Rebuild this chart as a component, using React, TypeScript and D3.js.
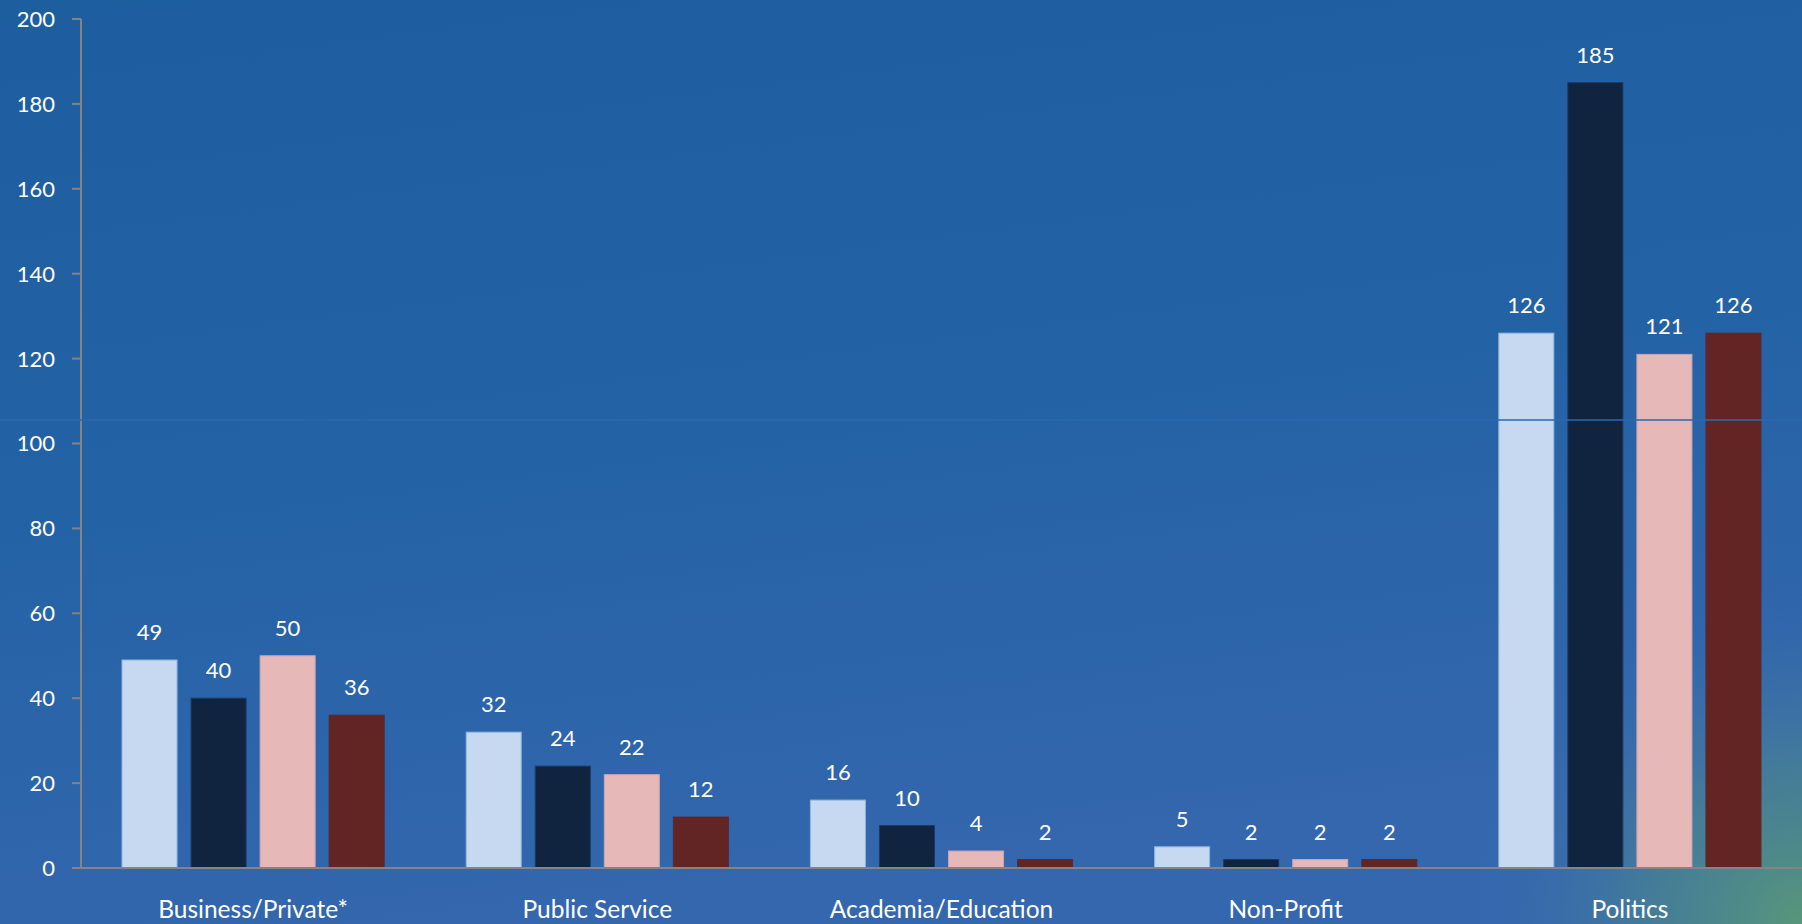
import React from "react";
import * as d3 from "d3";

const categories = ["Business/Private*", "Public Service", "Academia/Education", "Non-Profit", "Politics"];
const seriesNames = ["Series 1", "Series 2", "Series 3", "Series 4"];
const series1 = [49, 32, 16, 5, 126];
const series2 = [40, 24, 10, 2, 185];
const series3 = [50, 22, 4, 2, 121];
const series4 = [36, 12, 2, 2, 126];
const yTicks = [0, 20, 40, 60, 80, 100, 120, 140, 160, 180, 200];

const seriesValues = [series1, series2, series3, series4];
const fills = ["#c6d9f0", "#10243f", "#e6b8b7", "#632523"];
const strokes = ["#8fb3df", "#1d3a63", "#c9a3b3", "#5a2a2e"];

const W = 1802;
const H = 924;
const left = 81;
const right = 1802;
const y0 = 868;
const yTop = 19;
const FONT = "Lato, 'Open Sans', sans-serif";

export default function App() {
  const x = d3.scaleBand<string>().domain(categories).range([left, right]).paddingInner(0).paddingOuter(0);
  const y = d3.scaleLinear().domain([0, 200]).range([y0, yTop]);
  const inner = d3
    .scaleBand<string>()
    .domain(seriesNames)
    .range([41, x.bandwidth() - 41])
    .paddingInner(14 / 69)
    .paddingOuter(0);

  return (
    <svg
      width={W}
      height={H}
      style={{ position: "absolute", left: 0, top: 0, display: "block" }}
      fontFamily={FONT}
    >
      <defs>
        <linearGradient id="bg" x1="0" y1="0" x2="0.25" y2="1">
          <stop offset="0" stopColor="#1d5e9f" />
          <stop offset="0.55" stopColor="#2462a6" />
          <stop offset="1" stopColor="#3467ad" />
        </linearGradient>
        <radialGradient id="glow" cx={W} cy={H} r="330" gradientUnits="userSpaceOnUse">
          <stop offset="0" stopColor="#58977a" stopOpacity="1" />
          <stop offset="0.45" stopColor="#4a8490" stopOpacity="0.75" />
          <stop offset="1" stopColor="#3a6db2" stopOpacity="0" />
        </radialGradient>
      </defs>
      <rect x={0} y={0} width={W} height={H} fill="url(#bg)" />
      <rect x={0} y={0} width={W} height={H} fill="url(#glow)" />

      {/* bars */}
      {categories.map((c, ci) =>
        seriesNames.map((s, si) => {
          const v = seriesValues[si][ci];
          const bx = (x(c) as number) + (inner(s) as number);
          const by = y(v);
          return (
            <g key={c + s}>
              <rect
                x={bx}
                y={by}
                width={inner.bandwidth()}
                height={y0 - by}
                fill={fills[si]}
                stroke={strokes[si]}
                strokeWidth={1}
              />
              <text
                x={bx + inner.bandwidth() / 2}
                y={by - 20}
                fill="#ffffff"
                fontSize={22}
                textAnchor="middle"
              >
                {v}
              </text>
            </g>
          );
        })
      )}

      {/* y axis */}
      <line x1={left} x2={left} y1={y(200)} y2={y0} stroke="#848484" strokeWidth={2} />
      {yTicks.map((t) => (
        <g key={t}>
          <line x1={72} x2={left} y1={y(t)} y2={y(t)} stroke="#848484" strokeWidth={2} />
          <text x={55} y={y(t)} dy="0.36em" fill="#ffffff" fontSize={22} textAnchor="end">
            {t}
          </text>
        </g>
      ))}

      {/* x axis */}
      <line x1={left - 9} x2={W} y1={y0} y2={y0} stroke="#848484" strokeWidth={2} />
      {categories.map((c) => (
        <text
          key={c}
          x={(x(c) as number) + x.bandwidth() / 2}
          y={918}
          fill="#ffffff"
          fontSize={24.5}
          textAnchor="middle"
        >
          {c}
        </text>
      ))}

      {/* faint horizontal artifact line */}
      <line x1={0} x2={W} y1={420} y2={420} stroke="#2a68b0" strokeWidth={1.5} />
    </svg>
  );
}
